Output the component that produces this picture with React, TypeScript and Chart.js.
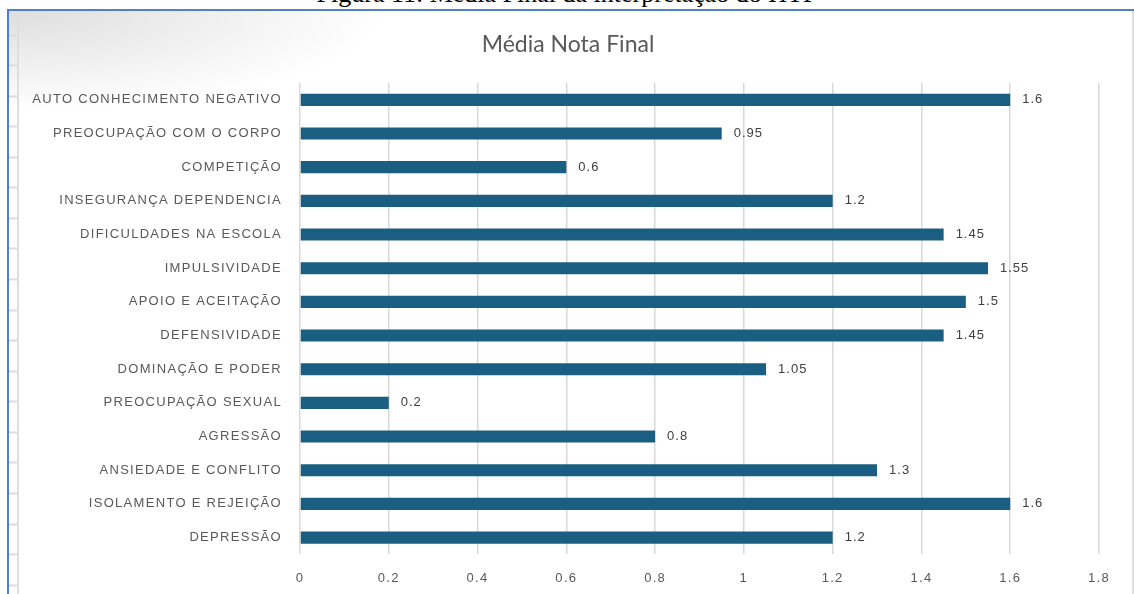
import React, { useEffect, useRef } from "react";
import { Chart, registerables } from "chart.js";

Chart.register(...registerables);

const chartTitle = "Média Nota Final";
const captionText = "Figura 11: Média Final da interpretação do HTP";

const categories = [
  "AUTO CONHECIMENTO NEGATIVO",
  "PREOCUPAÇÃO COM O CORPO",
  "COMPETIÇÃO",
  "INSEGURANÇA DEPENDENCIA",
  "DIFICULDADES NA ESCOLA",
  "IMPULSIVIDADE",
  "APOIO E ACEITAÇÃO",
  "DEFENSIVIDADE",
  "DOMINAÇÃO E PODER",
  "PREOCUPAÇÃO SEXUAL",
  "AGRESSÃO",
  "ANSIEDADE E CONFLITO",
  "ISOLAMENTO E REJEIÇÃO",
  "DEPRESSÃO",
];

const values = [1.6, 0.95, 0.6, 1.2, 1.45, 1.55, 1.5, 1.45, 1.05, 0.2, 0.8, 1.3, 1.6, 1.2];

const xTickValues = [0, 0.2, 0.4, 0.6, 0.8, 1, 1.2, 1.4, 1.6, 1.8];

const BAR_COLOR = "#1a5f81";
const TEXT_GREY = "#595959";
const LABEL_FONT = '"Liberation Sans", Arial, sans-serif';
const LETTER_SPACING = "1.3px";

const setSpacing = (chart: any) => {
  if (chart.ctx) (chart.ctx as any).letterSpacing = LETTER_SPACING;
};

const spacingPlugin = {
  id: "spacing",
  beforeInit: setSpacing,
  beforeUpdate: setSpacing,
  beforeLayout: setSpacing,
  beforeDraw: setSpacing,
};

const titlePlugin = {
  id: "plainTitle",
  afterDraw(chart: any) {
    const ctx = chart.ctx;
    ctx.save();
    ctx.letterSpacing = "0px";
    ctx.font = `23px Lato, "Open Sans", sans-serif`;
    ctx.fillStyle = TEXT_GREY;
    ctx.textAlign = "center";
    ctx.textBaseline = "middle";
    ctx.fillText(chartTitle, 559, 34);
    ctx.restore();
  },
};

const valueLabels = {
  id: "valueLabels",
  afterDatasetsDraw(chart: any) {
    const ctx = chart.ctx;
    const meta = chart.getDatasetMeta(0);
    ctx.save();
    ctx.letterSpacing = "1px";
    ctx.font = `13px ${LABEL_FONT}`;
    ctx.fillStyle = "#404040";
    ctx.textBaseline = "middle";
    ctx.textAlign = "left";
    meta.data.forEach((bar: any, i: number) => {
      ctx.fillText(String(values[i]), bar.x + 12, bar.y);
    });
    ctx.restore();
  },
};

export default function App() {
  const canvasRef = useRef<HTMLCanvasElement | null>(null);

  useEffect(() => {
    if (!canvasRef.current) return;
    const c2d = canvasRef.current.getContext("2d") as any;
    if (c2d) c2d.letterSpacing = LETTER_SPACING;
    const chart = new Chart(canvasRef.current, {
      type: "bar",
      data: {
        labels: categories,
        datasets: [
          {
            data: values,
            backgroundColor: BAR_COLOR,
            borderWidth: 0,
            barPercentage: 0.36,
            categoryPercentage: 1,
          },
        ],
      },
      options: {
        indexAxis: "y",
        animation: false,
        responsive: false,
        maintainAspectRatio: false,
        layout: { padding: { left: 0, right: 33, top: 72, bottom: -8 } },
        plugins: {
          legend: { display: false },
          tooltip: { enabled: false },
          title: { display: false },
        },
        scales: {
          x: {
            type: "linear",
            min: 0,
            max: 1.8,
            afterBuildTicks: (scale: any) => {
              scale.ticks = xTickValues.map((v) => ({ value: v }));
            },
            ticks: {
              color: TEXT_GREY,
              font: { family: LABEL_FONT, size: 13 },
              padding: 16,
              maxRotation: 0,
              callback: (v: any) => String(Math.round(Number(v) * 10) / 10),
            },
            grid: { color: "#d9d9d9", lineWidth: 1.5, drawTicks: false },
            border: { display: false },
          },
          y: {
            type: "category",
            afterFit: (scale: any) => {
              scale.width = 291;
            },
            ticks: {
              color: TEXT_GREY,
              font: { family: LABEL_FONT, size: 13 },
              padding: 18,
              autoSkip: false,
            },
            grid: { display: false, drawTicks: false },
            border: { display: false },
          },
        },
      },
      plugins: [spacingPlugin, valueLabels, titlePlugin],
    });
    return () => chart.destroy();
  }, []);

  return (
    <div
      style={{
        position: "absolute",
        left: 0,
        top: 0,
        width: 1134,
        height: 594,
        overflow: "hidden",
        background: "#ffffff",
      }}
    >
      <div
        style={{
          position: "absolute",
          left: 0,
          top: -19,
          width: 1134,
          textAlign: "center",
          font: '26px "Liberation Serif", "Times New Roman", serif',
          lineHeight: "26px",
          color: "#000",
          whiteSpace: "nowrap",
        }}
      >
        {captionText}
      </div>
      <div
        style={{
          position: "absolute",
          left: 9,
          top: 11,
          width: 420,
          height: 130,
          background:
            "radial-gradient(ellipse 380px 100px at 0px 0px, rgba(0,0,0,0.13), rgba(0,0,0,0))",
        }}
      />
      <div
        style={{
          position: "absolute",
          left: 9,
          top: 11,
          width: 8,
          height: 600,
          backgroundImage:
            "repeating-linear-gradient(to bottom, transparent 0px, transparent 28.56px, #dcdcdc 28.56px, #dcdcdc 30.56px)",
          backgroundPosition: "0px -5.56px",
        }}
      />
      <div
        style={{
          position: "absolute",
          left: 17,
          top: 11,
          width: 2,
          height: 600,
          background: "#dedede",
        }}
      />
      <div
        style={{
          position: "absolute",
          left: 1132,
          top: 11,
          width: 2,
          height: 600,
          background: "#dedede",
        }}
      />
      <div
        style={{
          position: "absolute",
          left: 7,
          top: 9,
          width: 1200,
          height: 700,
          borderLeft: "2px solid #4f7fd0",
          borderTop: "2px solid #4f7fd0",
          boxSizing: "border-box",
        }}
      />
      <canvas
        ref={canvasRef}
        width={1123}
        height={583}
        style={{ position: "absolute", left: 9, top: 11, width: 1123, height: 583 }}
      />
    </div>
  );
}
